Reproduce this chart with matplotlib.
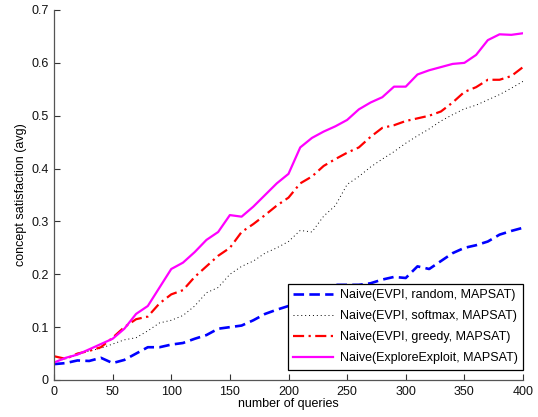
import matplotlib
matplotlib.use("Agg")
import matplotlib.pyplot as plt
import numpy as np

plt.rcParams['font.family'] = ['Liberation Sans', 'DejaVu Sans']

queries = list(range(0, 401, 10))

random_vals = [0.030, 0.032, 0.037, 0.036, 0.042, 0.032, 0.038, 0.050, 0.062, 0.062,
               0.067, 0.070, 0.078, 0.085, 0.097, 0.100, 0.103, 0.113, 0.125, 0.133,
               0.140, 0.157, 0.168, 0.175, 0.180, 0.180, 0.180, 0.183, 0.190, 0.195,
               0.193, 0.215, 0.210, 0.225, 0.240, 0.250, 0.255, 0.262, 0.275, 0.282,
               0.288]
softmax_vals = [0.035, 0.040, 0.048, 0.055, 0.060, 0.068, 0.076, 0.080, 0.093, 0.108,
                0.113, 0.122, 0.140, 0.165, 0.175, 0.200, 0.215, 0.225, 0.240, 0.250,
                0.262, 0.283, 0.280, 0.310, 0.330, 0.370, 0.385, 0.403, 0.418, 0.432,
                0.448, 0.462, 0.475, 0.490, 0.502, 0.513, 0.520, 0.530, 0.540, 0.552,
                0.565]
greedy_vals = [0.045, 0.040, 0.050, 0.055, 0.062, 0.080, 0.100, 0.115, 0.120, 0.145,
               0.162, 0.170, 0.195, 0.215, 0.235, 0.250, 0.280, 0.295, 0.312, 0.330,
               0.345, 0.372, 0.385, 0.405, 0.418, 0.430, 0.440, 0.460, 0.477, 0.482,
               0.490, 0.495, 0.500, 0.508, 0.525, 0.545, 0.554, 0.568, 0.568, 0.575,
               0.592]
explore_vals = [0.033, 0.042, 0.048, 0.058, 0.068, 0.078, 0.097, 0.125, 0.140, 0.175,
                0.210, 0.222, 0.242, 0.265, 0.280, 0.312, 0.309, 0.328, 0.350, 0.372,
                0.390, 0.440, 0.458, 0.470, 0.480, 0.492, 0.512, 0.525, 0.535, 0.555,
                0.555, 0.578, 0.586, 0.592, 0.598, 0.600, 0.615, 0.643, 0.654, 0.653,
                0.656]

labels = ["Naive(EVPI, random, MAPSAT)",
          "Naive(EVPI, softmax, MAPSAT)",
          "Naive(EVPI, greedy, MAPSAT)",
          "Naive(ExploreExploit, MAPSAT)"]

fig = plt.figure(figsize=(5.38, 4.17), dpi=100)
ax = fig.add_axes([54/538, 37/417, (523-54)/538, (380-10)/417])

ax.plot(queries, random_vals, color='#0000ff', lw=1.9, linestyle=(0, (4, 2)), label=labels[0])
ax.plot(queries, softmax_vals, color='black', lw=0.7, linestyle=(0, (1, 3)), label=labels[1])
ax.plot(queries, greedy_vals, color='#ff0000', lw=1.6, linestyle=(0, (5, 2, 1, 2)), label=labels[2])
ax.plot(queries, explore_vals, color='#ff00ff', lw=1.6, linestyle='-', label=labels[3])

ax.set_xlim(0, 400)
ax.set_ylim(0, 0.7)
ax.set_xticks(np.arange(0, 401, 50))
ax.set_yticks(np.arange(0, 0.71, 0.1))
ax.set_yticklabels(["0", "0.1", "0.2", "0.3", "0.4", "0.5", "0.6", "0.7"])
ax.tick_params(direction='in', length=4, labelsize=9, width=0.8, colors='#333333',
               labelcolor='#111111', pad=4)
for s in ['top', 'right']:
    ax.spines[s].set_visible(False)
for s in ['left', 'bottom']:
    ax.spines[s].set_color('#555555')
    ax.spines[s].set_linewidth(0.9)

ax.set_xlabel("number of queries", fontsize=9, labelpad=0)
ax.set_ylabel("concept satisfaction (avg)", fontsize=9, labelpad=3)

leg = ax.legend(loc='lower right', bbox_to_anchor=(1.0, 0.027), borderaxespad=0,
                fontsize=9, handlelength=3.2, handletextpad=0.5, labelspacing=0.72,
                borderpad=0.45, fancybox=False, framealpha=1, edgecolor='black')
leg.get_frame().set_linewidth(0.9)

fig.savefig("out.png", dpi=100)
